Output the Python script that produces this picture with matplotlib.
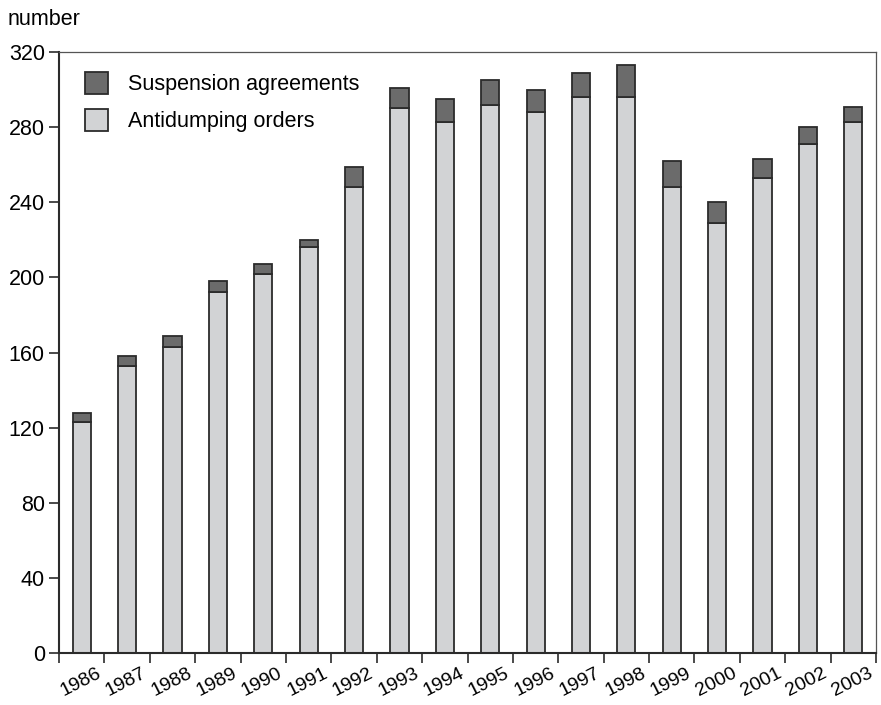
import matplotlib.pyplot as plt
import matplotlib.transforms as mtransforms
import numpy as np

plt.rcParams['font.family'] = ['Liberation Sans', 'DejaVu Sans']

years = [str(y) for y in range(1986, 2004)]
antidumping = [123, 153, 163, 192, 202, 216, 248, 290, 283, 292, 288, 296, 296, 248, 229, 253, 271, 283]
suspension = [5, 5, 6, 6, 5, 4, 11, 11, 12, 13, 12, 13, 17, 14, 11, 10, 9, 8]

light = "#d2d3d5"
dark = "#6b6b6b"
edge = "#2b2b2b"
fs = 15.5

fig = plt.figure(figsize=(8.81, 7.05), dpi=100)
ax = fig.add_axes([0.067, 0.0738, 0.9273, 0.8522])

x = np.arange(len(years))
ax.bar(x, antidumping, width=0.4, color=light, edgecolor=edge, linewidth=1.3,
       label="Antidumping orders", zorder=2)
ax.bar(x, suspension, width=0.4, bottom=antidumping, color=dark, edgecolor=edge,
       linewidth=1.3, label="Suspension agreements", zorder=2)

ax.set_xlim(-0.5, len(years) - 0.5)
ax.set_ylim(0, 320)
ax.set_yticks(range(0, 321, 40))
ax.tick_params(axis='y', labelsize=fs, length=7.2, width=1.2, color=edge, pad=3)

# year labels sit at the category boundaries, tilted
ax.set_xticks(np.arange(-0.5, len(years), 1.0))
ax.set_xticklabels([""] + years, rotation=27, ha="right", rotation_mode="anchor")
ax.tick_params(axis='x', labelsize=14, length=7.2, width=1.2, color=edge, pad=1)
shift = mtransforms.ScaledTranslation(-6 / 72, 0, fig.dpi_scale_trans)
for lab in ax.get_xticklabels():
    lab.set_transform(lab.get_transform() + shift)

for s in ["left", "bottom"]:
    ax.spines[s].set_linewidth(1.5)
    ax.spines[s].set_color(edge)
for s in ["top", "right"]:
    ax.spines[s].set_linewidth(0.9)
    ax.spines[s].set_color("#555555")

h, l = ax.get_legend_handles_labels()
ax.legend(h[::-1], l[::-1], loc="upper left", frameon=False, fontsize=fs,
          handlelength=1.07, handleheight=1.25, handletextpad=0.93,
          labelspacing=0.62, borderaxespad=0.0, bbox_to_anchor=(0.021, 0.982))

fig.text(0.009, 0.972, "number", fontsize=fs, ha="left", va="center")

fig.savefig("out.png", dpi=100)
